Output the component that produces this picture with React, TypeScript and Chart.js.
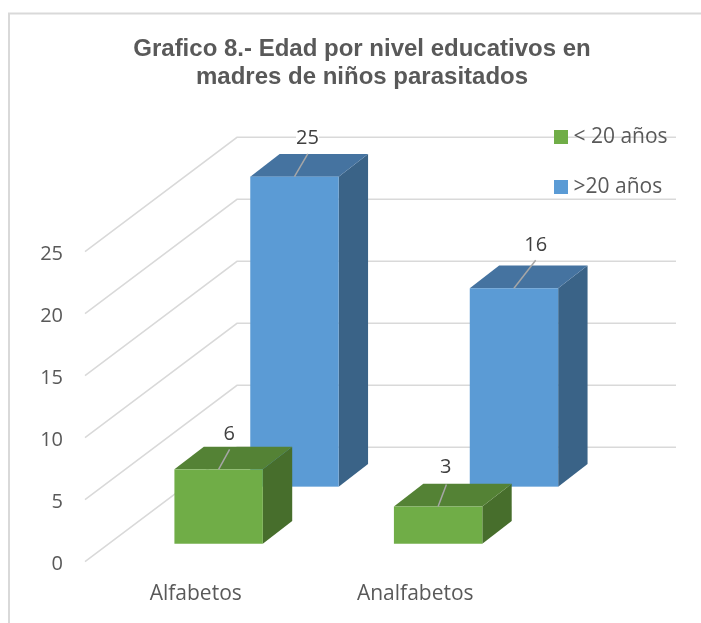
import React, { useEffect, useRef } from "react";
import { Chart, registerables } from "chart.js";

Chart.register(...registerables);

const titleLines = ["Grafico 8.- Edad por nivel educativos en", "madres de niños parasitados"];
const categories = ["Alfabetos", "Analfabetos"];
const youngerLabel = "< 20 años";
const olderLabel = ">20 años";
const youngerValues = [6, 3];
const olderValues = [25, 16];
const yTicks = { min: 0, max: 25, step: 5 };

const SANS = '"Open Sans", sans-serif';
const TEXT = "#595959";
const GRID = "#D9D9D9";
const FLOOR = { dx: 152, dy: -114.4 }; // depth of the floor, front edge to back wall
const BOX = { dx: 29.4, dy: -22.7 }; // depth of one bar
// per-dataset style: depth along the floor, and the 3D shades
const SERIES_STYLE = [
  { depth: 0.157, front: "#70AD47", top: "#548235", side: "#476E2C", nudge: [[10.5, -35, 11, -20], [7.7, -39, 8.3, -22]] },
  { depth: 0.656, front: "#5B9BD5", top: "#4573A0", side: "#3A6387", nudge: [[13, -38, 13.3, -22.7], [21.7, -43, 21.7, -28]] },
];

const box3d = {
  id: "box3d",
  afterLayout(chart: any) {
    const t = chart.titleBlock;
    t.left = 23;
    t.right = 701;
    const l = chart.legend;
    l.left = 530;
    l.right = 701;
    l.top = 97.5;
    l.bottom = 240;
  },
  beforeDraw(chart: any) {
    const { ctx, scales } = chart;
    const y = scales.y;
    const x = scales.x;
    ctx.save();
    ctx.strokeStyle = GRID;
    ctx.lineWidth = 2;
    ctx.beginPath();
    ctx.moveTo(9, 640);
    ctx.lineTo(9, 13.5);
    ctx.lineTo(720, 13.5);
    ctx.stroke();
    ctx.lineWidth = 1.5;
    for (const tick of y.ticks) {
      const py = y.getPixelForValue(tick.value);
      ctx.beginPath();
      ctx.moveTo(x.left, py);
      ctx.lineTo(x.left + FLOOR.dx, py + FLOOR.dy);
      ctx.lineTo(x.right + FLOOR.dx, py + FLOOR.dy);
      ctx.stroke();
    }
    ctx.restore();
  },
  beforeDatasetDraw(chart: any, args: any) {
    const { ctx } = chart;
    const s = SERIES_STYLE[args.index];
    const shiftX = FLOOR.dx * s.depth;
    const shiftY = FLOOR.dy * s.depth;
    ctx.save();
    for (const el of args.meta.data) {
      const l = el.x - el.width / 2 + shiftX;
      const r = el.x + el.width / 2 + shiftX;
      const t = el.y + shiftY;
      const b = el.base + shiftY;
      ctx.fillStyle = s.side;
      ctx.beginPath();
      ctx.moveTo(r, t);
      ctx.lineTo(r + BOX.dx, t + BOX.dy);
      ctx.lineTo(r + BOX.dx, b + BOX.dy);
      ctx.lineTo(r, b);
      ctx.closePath();
      ctx.fill();
      ctx.fillStyle = s.top;
      ctx.beginPath();
      ctx.moveTo(l, t);
      ctx.lineTo(l + BOX.dx, t + BOX.dy);
      ctx.lineTo(r + BOX.dx, t + BOX.dy);
      ctx.lineTo(r, t);
      ctx.closePath();
      ctx.fill();
      ctx.fillStyle = s.front;
      ctx.fillRect(l, t, r - l, b - t);
    }
    ctx.restore();
    return false;
  },
  afterDatasetsDraw(chart: any) {
    const { ctx } = chart;
    ctx.save();
    ctx.font = `20px ${SANS}`;
    ctx.textAlign = "center";
    ctx.textBaseline = "middle";
    chart.data.datasets.forEach((ds: any, i: number) => {
      const s = SERIES_STYLE[i];
      chart.getDatasetMeta(i).data.forEach((el: any, j: number) => {
        const cx = el.x + FLOOR.dx * s.depth;
        const cy = el.y + FLOOR.dy * s.depth;
        const [lx, ly, ex, ey] = s.nudge[j];
        ctx.strokeStyle = "#A6A6A6";
        ctx.lineWidth = 1.5;
        ctx.beginPath();
        ctx.moveTo(cx, cy);
        ctx.lineTo(cx + ex, cy + ey);
        ctx.stroke();
        const text = String(ds.data[j]);
        const w = ctx.measureText(text).width;
        ctx.fillStyle = "#FFFFFF";
        ctx.fillRect(cx + lx - w / 2, cy + ly - 3, w, 4);
        ctx.fillStyle = "#404040";
        ctx.fillText(text, cx + lx, cy + ly);
      });
    });
    ctx.restore();
  },
};

export default function App() {
  const ref = useRef<HTMLCanvasElement>(null);
  useEffect(() => {
    const chart = new Chart(ref.current as HTMLCanvasElement, {
      type: "bar",
      data: {
        labels: categories,
        datasets: [
          { label: youngerLabel, data: youngerValues, backgroundColor: SERIES_STYLE[0].front, borderWidth: 0, grouped: false, barThickness: 88.4 },
          { label: olderLabel, data: olderValues, backgroundColor: SERIES_STYLE[1].front, borderWidth: 0, grouped: false, barThickness: 88.4 },
        ] as any,
      },
      options: {
        animation: false,
        responsive: false,
        layout: { padding: { left: 0, right: 177, top: 0, bottom: 17.8 } },
        plugins: {
          title: {
            display: true,
            text: titleLines,
            color: TEXT,
            font: { family: '"Liberation Sans", Arial, sans-serif', size: 24, weight: "bold", lineHeight: 1.1667 },
            padding: { top: 35, bottom: 160.7 },
          },
          legend: {
            display: true,
            position: "chartArea",
            align: "start",
            labels: {
              color: TEXT,
              font: { family: SANS, size: 21 },
              usePointStyle: true,
              pointStyle: "rect",
              boxWidth: 4,
              boxHeight: 14,
              padding: 29,
            },
          },
          tooltip: { enabled: false },
        },
        scales: {
          x: {
            grid: { display: false, drawTicks: false },
            border: { display: false },
            ticks: { color: TEXT, font: { family: SANS, size: 21 }, padding: 19.3, maxRotation: 0, labelOffset: 1 },
            afterFit: (s: any) => {
              s.height = 43.5;
            },
          },
          y: {
            min: yTicks.min,
            max: yTicks.max,
            grid: { display: false, drawTicks: false },
            border: { display: false },
            ticks: { stepSize: yTicks.step, color: TEXT, font: { family: SANS, size: 20 }, padding: 22, labelOffset: 3 },
            afterFit: (s: any) => {
              s.width = 85;
            },
          },
        },
      } as any,
      plugins: [box3d],
    });
    return () => chart.destroy();
  }, []);
  return (
    <div style={{ position: "absolute", left: 0, top: 0, width: 701, height: 623 }}>
      <canvas ref={ref} width={701} height={623} style={{ display: "block" }} />
    </div>
  );
}
